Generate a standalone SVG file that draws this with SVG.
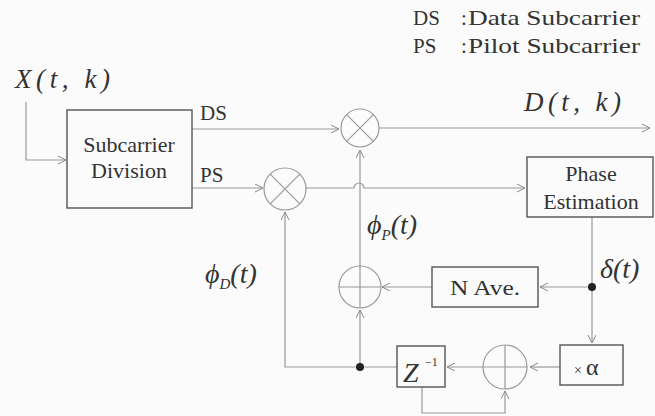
<svg xmlns="http://www.w3.org/2000/svg" width="655" height="416" viewBox="0 0 655 416">
<defs>
<marker id="arr" markerWidth="10" markerHeight="10" refX="8" refY="4" orient="auto" markerUnits="userSpaceOnUse">
<path d="M0,0 L8,4 L0,8" fill="none" stroke="#888" stroke-width="1"/>
</marker>
<style>
.ln{fill:none;stroke:#999;stroke-width:1.2}
.bx{fill:none;stroke:#555;stroke-width:1.4}
.cr{fill:none;stroke:#999;stroke-width:1.2}
.t{font-family:"Liberation Serif","Times New Roman",serif;fill:#333}
.i{font-style:italic}
</style>
</defs>
<rect width="655" height="416" fill="#fbfbfb"/>
<g id="legend">
<text class="t" x="413" y="25" font-size="21">DS</text>
<text class="t" x="461" y="25" font-size="21">:</text>
<text class="t" x="468" y="25" font-size="21" textLength="172" lengthAdjust="spacingAndGlyphs">Data Subcarrier</text>
<text class="t" x="413" y="53" font-size="21">PS</text>
<text class="t" x="461" y="53" font-size="21">:</text>
<text class="t" x="468" y="53" font-size="21" textLength="172" lengthAdjust="spacingAndGlyphs">Pilot Subcarrier</text>
</g>
<g id="connectors">
<path class="ln" d="M26,102 V160 H66" marker-end="url(#arr)"/>
<path class="ln" d="M192,129 H339" marker-end="url(#arr)"/>
<path class="ln" d="M379,128 H650" marker-end="url(#arr)"/>
<path class="ln" d="M192,188 H263" marker-end="url(#arr)"/>
<path class="ln" d="M306,188 H354 A5,5 0 0 1 364,188 H525" marker-end="url(#arr)"/>
<path class="ln" d="M592,217 V343" marker-end="url(#arr)"/>
<path class="ln" d="M592,287 H540" marker-end="url(#arr)"/>
<path class="ln" d="M432,287 H382" marker-end="url(#arr)"/>
<path class="ln" d="M360,367 V310" marker-end="url(#arr)"/>
<path class="ln" d="M360,266 V150" marker-end="url(#arr)"/>
<path class="ln" d="M397,367 H285 V212" marker-end="url(#arr)"/>
<path class="ln" d="M560,367 H530" marker-end="url(#arr)"/>
<path class="ln" d="M483,367 H447" marker-end="url(#arr)"/>
<path class="ln" d="M422,387 V413 H505 V391" marker-end="url(#arr)"/>
<circle cx="360" cy="367" r="4" fill="#222"/>
<circle cx="592" cy="287" r="4" fill="#222"/>
</g>
<g id="input-label"><text class="t i" x="15" y="88" font-size="27" textLength="95" lengthAdjust="spacing">X(t, k)</text></g>
<g id="subcarrier-division">
<rect class="bx" x="67" y="110" width="125" height="98"/>
<text class="t" x="129" y="152" font-size="22" text-anchor="middle">Subcarrier</text>
<text class="t" x="129" y="178" font-size="22" text-anchor="middle">Division</text>
</g>
<g id="ds-label"><text class="t" x="200" y="120" font-size="21">DS</text></g>
<g id="ps-label"><text class="t" x="200" y="182" font-size="21">PS</text></g>
<g id="mult-ds">
<circle class="cr" cx="360" cy="128" r="19"/>
<path class="ln" d="M346.6,114.6 L373.4,141.4 M373.4,114.6 L346.6,141.4"/>
</g>
<g id="mult-ps">
<circle class="cr" cx="285" cy="189" r="21"/>
<path class="ln" d="M270.2,174.2 L299.8,203.8 M299.8,174.2 L270.2,203.8"/>
</g>
<g id="output-label"><text class="t i" x="524" y="111" font-size="27" textLength="97" lengthAdjust="spacing">D(t, k)</text></g>
<g id="phase-estimation">
<rect class="bx" x="527" y="157" width="126" height="60"/>
<text class="t" x="591" y="181" font-size="22" text-anchor="middle">Phase</text>
<text class="t" x="591" y="209" font-size="22" text-anchor="middle">Estimation</text>
</g>
<g id="delta-label"><text class="t i" x="600" y="278" font-size="28">δ(t)</text></g>
<g id="n-ave">
<rect class="bx" x="432" y="267" width="106" height="40"/>
<text class="t" x="450" y="295" font-size="20" textLength="70" lengthAdjust="spacingAndGlyphs">N Ave.</text>
</g>
<g id="adder-p">
<circle class="cr" cx="360" cy="287" r="21"/>
<path class="ln" d="M339,287 H381 M360,266 V308"/>
</g>
<g id="phi-p-label"><text class="t i" x="367" y="234" font-size="28">ϕ<tspan font-size="15" dy="6">P</tspan><tspan dy="-6">(t)</tspan></text></g>
<g id="phi-d-label"><text class="t i" x="205" y="283" font-size="28">ϕ<tspan font-size="15" dy="6">D</tspan><tspan dy="-6">(t)</tspan></text></g>
<g id="z-delay">
<rect class="bx" x="397" y="346" width="48" height="41"/>
<text class="t i" x="403" y="382" font-size="28">Z</text>
<text class="t" x="425" y="366" font-size="12">−1</text>
</g>
<g id="adder-fb">
<circle class="cr" cx="505" cy="367" r="22"/>
<path class="ln" d="M483,367 H527 M505,345 V389"/>
</g>
<g id="alpha">
<rect class="bx" x="560" y="345" width="63" height="40"/>
<text class="t" x="574" y="375" font-size="14" fill="#777">×</text>
<text class="t" x="586" y="375" font-size="24">α</text>
</g>
</svg>
